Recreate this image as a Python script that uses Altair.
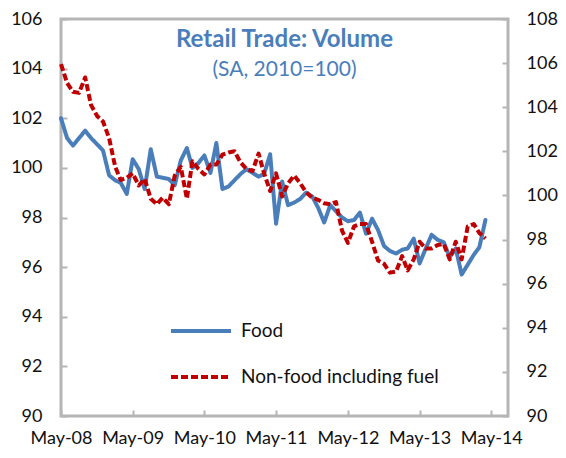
import altair as alt
import pandas as pd

start_month = "2008-05-01"
series_names = ["Food", "Non-food including fuel"]
series_colors = ["#4A7EBB", "#C00000"]

food = [102.0, 101.2, 100.9, 101.2, 101.5, 101.2, 100.95, 100.7, 99.7, 99.5,
        99.4, 98.95, 100.35, 99.95, 99.15, 100.75, 99.65, 99.6, 99.55, 99.3,
        100.3, 100.8, 100.0, 100.2, 100.5, 99.8, 101.0, 99.15, 99.25, 99.5,
        99.75, 99.95, 99.8, 99.65, 99.75, 100.55, 97.75, 99.45, 98.5, 98.6,
        98.75, 99.0, 98.85, 98.4, 97.8, 98.5, 98.25, 98.0, 97.85, 97.9,
        98.2, 97.35, 97.95, 97.5, 96.85, 96.65, 96.55, 96.7, 96.75, 97.15,
        96.15, 96.75, 97.3, 97.1, 97.0, 96.4, 96.75, 95.7, 96.1, 96.5,
        96.8, 97.9]

nonfood = [105.95, 105.1, 104.7, 104.65, 105.35, 104.1, 103.6, 103.35, 102.6, 101.3,
           100.7, 100.8, 101.0, 100.45, 100.75, 99.85, 99.6, 99.9, 99.6, 100.9,
           101.3, 99.85, 101.55, 101.2, 100.95, 101.4, 101.4, 101.85, 101.95, 102.0,
           101.5, 101.2, 101.1, 101.9, 101.0, 100.2, 101.0, 99.95, 100.55, 100.9,
           100.55, 100.15, 99.9, 99.8, 99.65, 99.6, 99.7, 98.4, 97.85, 98.6,
           98.7, 98.7, 97.9, 97.05, 96.9, 96.5, 96.55, 97.25, 96.6, 97.1,
           97.9, 97.6, 97.6, 97.75, 97.8, 97.1, 97.9, 97.1, 98.6, 98.7,
           98.3, 98.05]

left_ticks = [90, 92, 94, 96, 98, 100, 102, 104, 106]
right_ticks = [90, 92, 94, 96, 98, 100, 102, 104, 106, 108]
tick_years = [2008, 2009, 2010, 2011, 2012, 2013, 2014]

months = pd.date_range(start_month, periods=len(food), freq="MS")
df_food = pd.DataFrame({"date": months, "value": food, "series": series_names[0]})
df_non = pd.DataFrame({"date": months, "value": nonfood, "series": series_names[1]})

FONT = "Lato"
GRAY = "#b5b5b5"
TXT = "#111111"

x_enc = alt.X(
    "date:T",
    title=None,
    scale=alt.Scale(domain=[alt.DateTime(year=2008, month=5, date=1),
                            alt.DateTime(year=2014, month=7, date=25)]),
    axis=alt.Axis(values=[alt.DateTime(year=y, month=5, date=1) for y in tick_years],
                  format="%b-%y", grid=False, domain=False, offset=-6, tickSize=6,
                  tickColor=GRAY, tickWidth=2, labelPadding=13, labelFont=FONT,
                  labelFontSize=18, labelColor=TXT, labelFlush=False),
)

legend_def = alt.Legend(title=None, orient="none", legendX=108, legendY=280,
                        symbolType="stroke", symbolSize=3600, symbolStrokeWidth=4,
                        labelFont=FONT, labelFontSize=19, labelColor=TXT,
                        labelLimit=0, labelOffset=8, rowPadding=4, padding=0)

color_enc = alt.Color("series:N",
                      scale=alt.Scale(domain=series_names, range=series_colors),
                      legend=legend_def)
dash_enc = alt.StrokeDash("series:N",
                          scale=alt.Scale(domain=series_names, range=[[1, 0], [7, 3]]),
                          legend=legend_def)

food_chart = alt.Chart(df_food).mark_line(strokeWidth=4, strokeCap="round", strokeJoin="round").encode(
    x=x_enc,
    y=alt.Y("value:Q", title=None,
            scale=alt.Scale(domain=[90, 106], nice=False, zero=False),
            axis=alt.Axis(orient="left", values=left_ticks, grid=False, domain=False,
                          offset=-6, tickSize=6, tickColor=GRAY, tickWidth=2,
                          labelPadding=19, labelFont=FONT, labelFontSize=18,
                          labelColor=TXT)),
    color=color_enc,
    strokeDash=dash_enc,
)

non_chart = alt.Chart(df_non).mark_line(strokeWidth=4, strokeCap="butt", strokeJoin="round").encode(
    x=x_enc,
    y=alt.Y("value:Q", title=None,
            scale=alt.Scale(domain=[90, 108], nice=False, zero=False),
            axis=alt.Axis(orient="right", values=right_ticks, grid=False, domain=False,
                          offset=-6, tickSize=6, tickColor=GRAY, tickWidth=2,
                          labelPadding=18, labelFont=FONT, labelFontSize=18,
                          labelColor=TXT)),
    color=color_enc,
    strokeDash=dash_enc,
)

chart = alt.layer(food_chart, non_chart).resolve_scale(y="independent").properties(
    width=447,
    height=397,
    autosize=alt.AutoSizeParams(type="none"),
    padding={"left": 53, "top": 11, "right": 50, "bottom": 34},
    title=alt.TitleParams(
        text="Retail Trade: Volume",
        subtitle="(SA, 2010=100)",
        font=FONT, fontSize=24, fontWeight="bold", color="#4A7EBB",
        subtitleFont=FONT, subtitleFontSize=21, subtitleColor="#4A7EBB",
        subtitleFontWeight="normal", subtitlePadding=7,
        anchor="middle", orient="top", offset=-70,
    ),
).configure_view(
    stroke=GRAY, strokeWidth=3
)

chart.save("out.html", embed_options={"renderer": "svg", "actions": False})
